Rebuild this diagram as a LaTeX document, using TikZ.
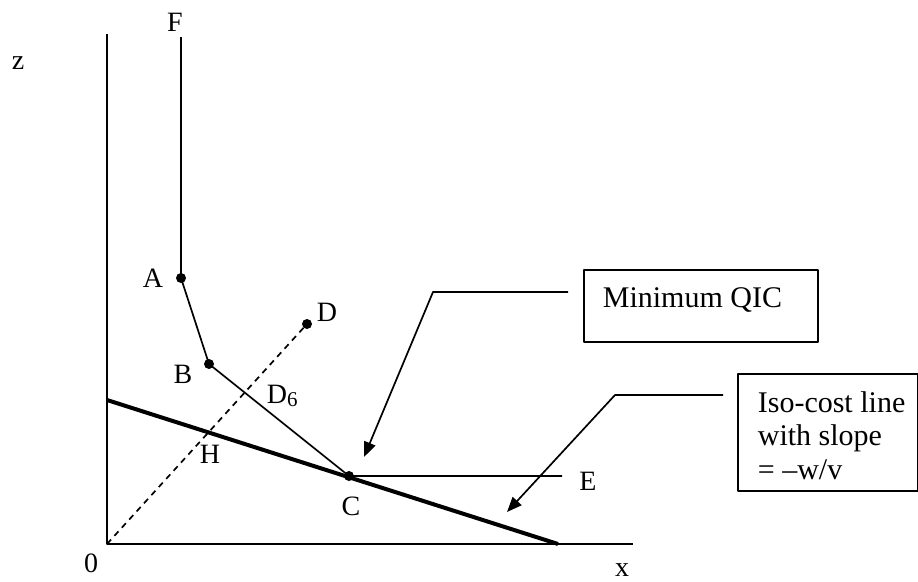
\documentclass[tikz,border=0pt]{standalone}
\usepackage{fontspec}
\setmainfont{Liberation Serif}
\usetikzlibrary{arrows.meta}
\tikzset{
  dot/.style={circle,fill,inner sep=0pt,minimum size=10pt},
  lbl/.style={font=\fontsize{28}{28}\selectfont,inner sep=0pt},
  boxed/.style={draw,line width=1.7pt,inner sep=0pt,anchor=north west},
  boxtext/.style={font=\fontsize{30}{33.5}\selectfont,align=left,inner sep=0pt},
  pointer/.style={line width=1.7pt,-{Triangle[length=15pt,width=12pt]}}
}
\begin{document}
\begin{tikzpicture}[x=1pt,y=-1pt,line join=round,line width=1.7pt]
	\useasboundingbox (0,0) rectangle (918,581);
	% axes
	\coordinate (O) at (107,544);
	\coordinate (ytop) at (107,34);
	\coordinate (xend) at (633,544);
	\draw (ytop) -- (O) -- (xend);
	\node[lbl] (lz) at (18,63) {z};
	\node[lbl] (lx) at (622,570) {x};
	\node[lbl] (l0) at (91,563) {0};
	% points
	\coordinate (F) at (181,37);
	\coordinate (E) at (562,476);
	\node[dot] (A) at (181,278) {};
	\node[dot] (B) at (209,364) {};
	\node[dot] (C) at (349,476) {};
	\node[dot] (D) at (307,324) {};
	\draw (F) -- (A.center) -- (B.center) -- (C.center) -- (E);
	\draw[dash pattern=on 6pt off 5pt] (O) -- (D.center);
	% iso-cost line
	\coordinate (iso1) at (107,400);
	\coordinate (iso2) at (558,544);
	\draw[line width=4pt] (iso1) -- (iso2);
	% labels
	\node[lbl] (lF) at (175,22) {F};
	\node[lbl] (lA) at (153,278) {A};
	\node[lbl] (lB) at (183,374) {B};
	\node[lbl] (lC) at (351,506) {C};
	\node[lbl] (lD) at (327,312) {D};
	\node[lbl] (lE) at (588,481) {E};
	\node[lbl] (lH) at (210,454) {H};
	\node[lbl,anchor=base west] (lD6) at (266,403) {D\raisebox{-3pt}{\fontsize{21}{21}\selectfont 6}};
	% boxes
	\node[boxed,minimum width=234pt,minimum height=72pt] (qic) at (583,269) {};
	\node[boxtext,anchor=base west] (qictext) at ([shift={(19,38)}]qic.north west) {Minimum QIC};
	\node[boxed,minimum width=180pt,minimum height=117pt] (isobox) at (737,373) {};
	\node[boxtext,anchor=north west] (isotext) at ([shift={(20,17.5)}]isobox.north west)
		{Iso-cost line\\with slope\\= –w/v};
	% pointers
	\coordinate (qictip) at (364,457);
	\coordinate (isotip) at (507,512);
	\draw[pointer] ([shift={(-15,23)}]qic.north west) -- ++(-135,0) -- (qictip);
	\draw[pointer] ([shift={(-14,22)}]isobox.north west) -- ++(-108,0) -- (isotip);
\end{tikzpicture}
\end{document}
